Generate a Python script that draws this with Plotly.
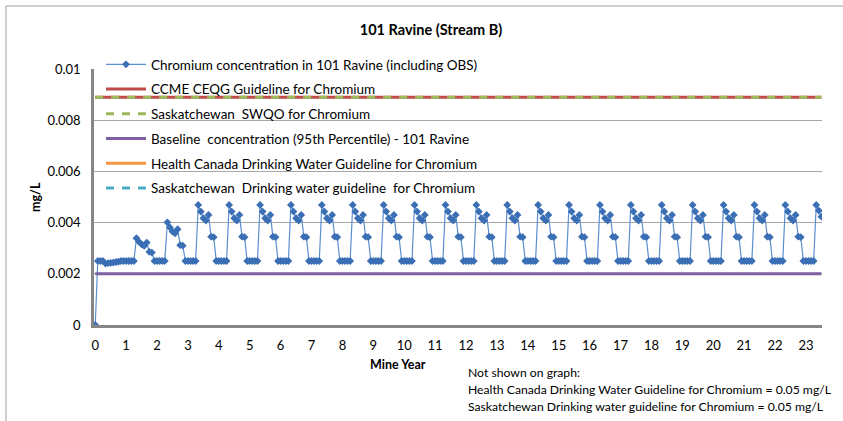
import plotly.graph_objects as go

# ---------------- data ----------------
# Chromium concentration (mg/L), one row per mine year, monthly values (Jan..Dec)
year_rows = [
    [0.0,     0.0025,  0.0025,  0.0025,  0.0024,  0.00242, 0.00243, 0.00244, 0.00246, 0.00247, 0.0025,  0.0025],   # year 0
    [0.0025,  0.0025,  0.0025,  0.0025,  0.00339, 0.00325, 0.00315, 0.00309, 0.00322, 0.00286, 0.00283, 0.0025],   # year 1
    [0.0025,  0.0025,  0.0025,  0.0025,  0.00401, 0.00381, 0.00365, 0.00358, 0.00374, 0.00312, 0.0031,  0.0025],   # year 2
    [0.0025,  0.0025,  0.0025,  0.0025,  0.00469, 0.00443, 0.00417, 0.00408, 0.0043,  0.00345, 0.00343, 0.0025],   # year 3
    [0.0025,  0.0025,  0.0025,  0.0025,  0.00469, 0.00443, 0.00417, 0.00408, 0.0043,  0.00345, 0.00343, 0.0025],   # year 4
    [0.0025,  0.0025,  0.0025,  0.0025,  0.00469, 0.00443, 0.00417, 0.00408, 0.0043,  0.00345, 0.00343, 0.0025],   # year 5
    [0.0025,  0.0025,  0.0025,  0.0025,  0.00469, 0.00443, 0.00417, 0.00408, 0.0043,  0.00345, 0.00343, 0.0025],   # year 6
    [0.0025,  0.0025,  0.0025,  0.0025,  0.00469, 0.00443, 0.00417, 0.00408, 0.0043,  0.00345, 0.00343, 0.0025],   # year 7
    [0.0025,  0.0025,  0.0025,  0.0025,  0.00469, 0.00443, 0.00417, 0.00408, 0.0043,  0.00345, 0.00343, 0.0025],   # year 8
    [0.0025,  0.0025,  0.0025,  0.0025,  0.00469, 0.00443, 0.00417, 0.00408, 0.0043,  0.00345, 0.00343, 0.0025],   # year 9
    [0.0025,  0.0025,  0.0025,  0.0025,  0.00469, 0.00443, 0.00417, 0.00408, 0.0043,  0.00345, 0.00343, 0.0025],   # year 10
    [0.0025,  0.0025,  0.0025,  0.0025,  0.00469, 0.00443, 0.00417, 0.00408, 0.0043,  0.00345, 0.00343, 0.0025],   # year 11
    [0.0025,  0.0025,  0.0025,  0.0025,  0.00469, 0.00443, 0.00417, 0.00408, 0.0043,  0.00345, 0.00343, 0.0025],   # year 12
    [0.0025,  0.0025,  0.0025,  0.0025,  0.00469, 0.00443, 0.00417, 0.00408, 0.0043,  0.00345, 0.00343, 0.0025],   # year 13
    [0.0025,  0.0025,  0.0025,  0.0025,  0.00469, 0.00443, 0.00417, 0.00408, 0.0043,  0.00345, 0.00343, 0.0025],   # year 14
    [0.0025,  0.0025,  0.0025,  0.0025,  0.00469, 0.00443, 0.00417, 0.00408, 0.0043,  0.00345, 0.00343, 0.0025],   # year 15
    [0.0025,  0.0025,  0.0025,  0.0025,  0.00469, 0.00443, 0.00417, 0.00408, 0.0043,  0.00345, 0.00343, 0.0025],   # year 16
    [0.0025,  0.0025,  0.0025,  0.0025,  0.00469, 0.00443, 0.00417, 0.00408, 0.0043,  0.00345, 0.00343, 0.0025],   # year 17
    [0.0025,  0.0025,  0.0025,  0.0025,  0.00469, 0.00443, 0.00417, 0.00408, 0.0043,  0.00345, 0.00343, 0.0025],   # year 18
    [0.0025,  0.0025,  0.0025,  0.0025,  0.00469, 0.00443, 0.00417, 0.00408, 0.0043,  0.00345, 0.00343, 0.0025],   # year 19
    [0.0025,  0.0025,  0.0025,  0.0025,  0.00469, 0.00443, 0.00417, 0.00408, 0.0043,  0.00345, 0.00343, 0.0025],   # year 20
    [0.0025,  0.0025,  0.0025,  0.0025,  0.00469, 0.00443, 0.00417, 0.00408, 0.0043,  0.00345, 0.00343, 0.0025],   # year 21
    [0.0025,  0.0025,  0.0025,  0.0025,  0.00469, 0.00443, 0.00417, 0.00408, 0.0043,  0.00345, 0.00343, 0.0025],   # year 22
    [0.0025,  0.0025,  0.0025,  0.0025,  0.00469, 0.00447, 0.00423],                                                # year 23 (partial)
]
months_per_year = 12

guideline_x = [0, 23.5]
ccme_ceqg = 0.0089
sask_swqo = 0.0089
baseline_95th = 0.0020
health_canada_dw = 0.05
sask_dw = 0.05

series_names = [
    "Chromium concentration in 101 Ravine (including OBS)",
    "CCME CEQG Guideline for Chromium",
    "Saskatchewan  SWQO for Chromium",
    "Baseline  concentration (95th Percentile) - 101 Ravine",
    "Health Canada Drinking Water Guideline for Chromium",
    "Saskatchewan  Drinking water guideline  for Chromium",
]
x_ticks = list(range(0, 24))
y_ticks = [0, 0.002, 0.004, 0.006, 0.008, 0.01]
y_tick_text = ["0", "0.002", "0.004", "0.006", "0.008", "0.01"]
note_lines = [
    "Not shown on graph:",
    "Health Canada Drinking Water Guideline for Chromium = 0.05 mg/L",
    "Saskatchewan Drinking water guideline for Chromium = 0.05 mg/L",
]

# time axis: mine year + month fraction
mine_year = []
chromium = []
for yr, row in enumerate(year_rows):
    for m, v in enumerate(row):
        mine_year.append(yr + m / months_per_year)
        chromium.append(v)

# ---------------- figure ----------------
W, H = 843, 421
L, R, T, B = 94, 21, 69, 96
FONT = "Lato"

fig = go.Figure()
fig.add_trace(go.Scatter(
    x=mine_year, y=chromium, mode="lines+markers", name=series_names[0],
    line=dict(color="#5B8FCF", width=1.2),
    marker=dict(symbol="diamond", size=6, color="#3A6EB5"),
    legendgroup="g1"))
fig.add_trace(go.Scatter(
    x=guideline_x, y=[ccme_ceqg] * 2, mode="lines", name=series_names[1],
    line=dict(color="#BE4B48", width=3), legendgroup="g2"))
fig.add_trace(go.Scatter(
    x=guideline_x, y=[sask_swqo] * 2, mode="lines", name=series_names[2],
    line=dict(color="#9BBB59", width=3, dash="8px,8px"), legendgroup="g3"))
fig.add_trace(go.Scatter(
    x=guideline_x, y=[baseline_95th] * 2, mode="lines", name=series_names[3],
    line=dict(color="#7D60A0", width=3), legendgroup="g4"))
fig.add_trace(go.Scatter(
    x=guideline_x, y=[health_canada_dw] * 2, mode="lines", name=series_names[4],
    line=dict(color="#F79646", width=3), legendgroup="g5"))
fig.add_trace(go.Scatter(
    x=guideline_x, y=[sask_dw] * 2, mode="lines", name=series_names[5],
    line=dict(color="#4BACC6", width=3, dash="8px,8px"), legendgroup="g6"))

pw = W - L - R
ph = H - T - B

def px_x(xp):
    return (xp - L) / pw

def px_y(yp):
    return (H - B - yp) / ph

annotations = [
    dict(text="<b>mg/L</b>", textangle=-90, x=px_x(35), y=px_y(197),
         xref="paper", yref="paper", showarrow=False, xanchor="center", yanchor="middle",
         font=dict(family=FONT, size=12.5, color="#000000")),
    dict(text="<b>Mine Year</b>", x=px_x(398), y=px_y(364),
         xref="paper", yref="paper", showarrow=False, xanchor="center", yanchor="middle",
         font=dict(family=FONT, size=12.5, color="#000000")),
]
for i, line_text in enumerate(note_lines):
    annotations.append(dict(
        text=line_text, x=px_x(466), y=px_y(372 + 17 * i), xref="paper", yref="paper",
        showarrow=False, xanchor="left", yanchor="middle", align="left",
        font=dict(family=FONT, size=12.2, color="#000000")))

fig.update_layout(
    width=W, height=H,
    margin=dict(l=L, r=R, t=T, b=B),
    paper_bgcolor="white", plot_bgcolor="white",
    font=dict(family=FONT, size=13, color="#000000"),
    showlegend=True,
    legend=dict(
        x=px_x(101), y=px_y(49), xanchor="left", yanchor="top",
        bgcolor="rgba(0,0,0,0)", borderwidth=0,
        font=dict(family=FONT, size=13.5, color="#000000"),
        traceorder="grouped", tracegroupgap=4.2,
        itemwidth=40,
    ),
    title=dict(text="<b>101 Ravine (Stream B)</b>", x=431 / W, y=1 - 30 / H,
               xref="container", yref="container", xanchor="center", yanchor="middle",
               font=dict(family=FONT, size=14.5, color="#000000")),
    xaxis=dict(
        range=[-0.04, 23.52], tickmode="array", tickvals=x_ticks,
        ticktext=[str(v) for v in x_ticks],
        showgrid=False, zeroline=False,
        showline=True, linecolor="#868686", linewidth=2.5,
        ticks="outside", ticklen=7, tickcolor="rgba(0,0,0,0)",
        tickfont=dict(family=FONT, size=13, color="#000000"),
    ),
    yaxis=dict(
        range=[0, 0.01], tickmode="array", tickvals=y_ticks, ticktext=y_tick_text,
        showgrid=True, gridcolor="#A6A6A6", gridwidth=1,
        zeroline=False,
        showline=True, linecolor="#868686", linewidth=2.5,
        ticks="outside", ticklen=8, tickcolor="rgba(0,0,0,0)",
        tickfont=dict(family=FONT, size=13, color="#000000"),
    ),
    annotations=annotations,
    shapes=[
        dict(type="rect", xref="paper", yref="paper",
             x0=px_x(6), x1=px_x(860), y0=px_y(440), y1=px_y(6),
             line=dict(color="#A0A0A0", width=1), fillcolor="rgba(0,0,0,0)", layer="below"),
    ],
)

fig.write_html("out.html", config={"displayModeBar": False},
               post_script="document.body.style.margin='0';")
